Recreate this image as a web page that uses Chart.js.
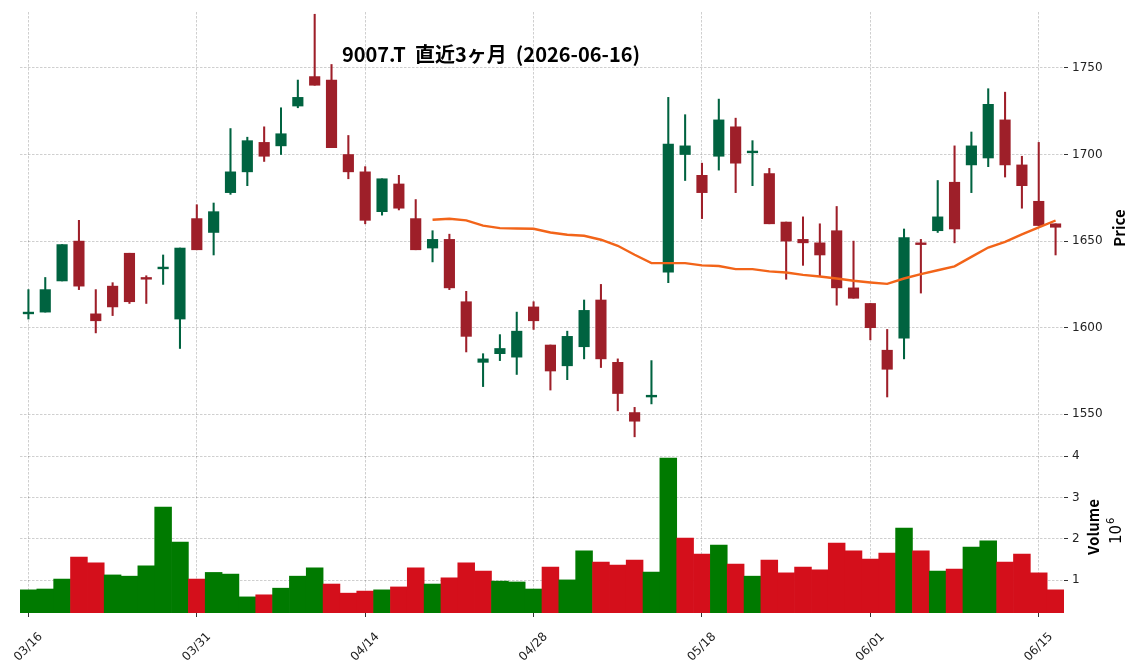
<!DOCTYPE html>
<html>
<head>
<meta charset="utf-8">
<script src="https://cdn.jsdelivr.net/npm/chart.js@4/dist/chart.umd.min.js"></script>
<style>
html,body{margin:0;padding:0;background:#fff}
#wrap{width:1137px;height:670px}
</style>
</head>
<body>
<div id="wrap"><canvas id="chart" width="1137" height="670"></canvas></div>
<script>
const dates = [
"03/16","03/17","03/18","03/19","03/23","03/24","03/25","03/26","03/27","03/30",
"03/31","04/01","04/02","04/03","04/06","04/07","04/08","04/09","04/10","04/13",
"04/14","04/15","04/16","04/17","04/20","04/21","04/22","04/23","04/24","04/27",
"04/28","04/30","05/01","05/07","05/08","05/11","05/12","05/13","05/14","05/15",
"05/18","05/19","05/20","05/21","05/22","05/25","05/26","05/27","05/28","05/29",
"06/01","06/02","06/03","06/04","06/05","06/08","06/09","06/10","06/11","06/12",
"06/15","06/16"]

const opens = [
1608,1609,1627,1650,1608,1624,1643,1629,1634,1605,
1663,1655,1678,1690,1707,1705,1728,1745,1743,1700,
1690,1667,1683,1663,1646,1651,1615,1580,1585,1583,
1612,1590,1578,1589,1616,1580,1551,1560,1632,1700,
1688,1699,1716,1701,1689,1661,1651,1649,1656,1623,
1614,1587,1594,1649,1656,1684,1694,1698,1720,1694,
1673,1660]

const highs = [
1622,1629,1648,1662,1622,1626,1643,1630,1642,1646,
1671,1672,1715,1710,1716,1727,1743,1781,1752,1711,
1693,1686,1688,1674,1656,1654,1621,1585,1596,1609,
1615,1590,1598,1616,1625,1582,1554,1581,1733,1723,
1695,1732,1721,1708,1692,1661,1664,1660,1670,1650,
1614,1599,1657,1651,1685,1705,1713,1738,1736,1699,
1707,1660]

const lows = [
1605,1609,1627,1622,1597,1607,1614,1614,1625,1588,
1645,1642,1677,1682,1696,1700,1727,1740,1704,1686,
1660,1665,1668,1645,1638,1622,1586,1566,1581,1573,
1599,1564,1570,1582,1577,1552,1537,1556,1626,1685,
1663,1691,1678,1682,1660,1628,1636,1630,1613,1617,
1593,1560,1582,1620,1655,1649,1678,1693,1687,1669,
1659,1642]

const closes = [
1609,1622,1648,1624,1604,1612,1615,1628,1635,1646,
1645,1667,1690,1708,1699,1712,1733,1740,1704,1690,
1662,1686,1669,1645,1651,1623,1595,1582,1588,1598,
1604,1575,1595,1610,1582,1562,1546,1561,1706,1705,
1678,1720,1695,1702,1660,1650,1649,1642,1623,1617,
1600,1576,1652,1648,1664,1657,1705,1729,1694,1682,
1659,1658]

// volume, millions of shares
const volumes = [
0.77,0.79,1.03,1.56,1.42,1.13,1.10,1.35,2.77,1.92,
1.03,1.19,1.15,0.60,0.65,0.81,1.10,1.30,0.91,0.69,
0.74,0.77,0.84,1.30,0.91,1.06,1.42,1.22,0.98,0.96,
0.79,1.32,1.01,1.71,1.44,1.37,1.49,1.20,3.95,2.02,
1.63,1.85,1.39,1.10,1.49,1.18,1.32,1.25,1.90,1.71,
1.51,1.66,2.26,1.71,1.22,1.27,1.80,1.95,1.44,1.63,
1.18,0.77]

// moving average line as drawn (starts at the 25th session)
const movingAvg = [
null,null,null,null,null,null,null,null,null,null,
null,null,null,null,null,null,null,null,null,null,
null,null,null,null,1662.3,1662.9,1662.0,1658.9,1657.5,1657.3,
1657.1,1655.0,1653.7,1653.1,1650.8,1647.3,1642.1,1637.3,1637.3,1637.3,
1636.0,1635.6,1633.8,1633.8,1632.5,1631.9,1630.5,1629.6,1628.4,1627.1,
1626.1,1625.3,1628.4,1630.9,1633.2,1635.4,1640.9,1646.3,1649.6,1653.9,
1657.9,1661.9]

const priceTicks = [1550,1600,1650,1700,1750]
const volumeTicks = [1,2,3,4]
const dateTicks = ["03/16","03/31","04/14","04/28","05/18","06/01","06/15"]

const upCandle = "#006340"
const downCandle = "#9e1f29"
const upVol = "#007a00"
const downVol = "#d40f1b"
const gridColor = "rgba(0,0,0,0.24)"
const tickFont = {family:"DejaVu Sans", size:12}
const cjk = '"Noto Sans CJK JP"'

function candleColor(c){
let i = c.dataIndex
return closes[i] >= opens[i] ? upCandle : downCandle
}

function volColor(c){
let i = c.dataIndex
if(i === 0) return upVol
return closes[i] >= closes[i-1] ? upVol : downVol
}

const textPlugin = {
id:"texts",
afterDraw(chart){
const ctx = chart.ctx
const xs = chart.scales.x
ctx.save()
ctx.fillStyle = "#000"

// title
ctx.font = "bold 20px " + cjk
ctx.textAlign = "center"
ctx.textBaseline = "alphabetic"
ctx.fillText("9007.T  直近3ヶ月  (2026-06-16)", 491, 62)

// date labels, rotated 45 deg, centred under the tick
ctx.font = "12px DejaVu Sans"
ctx.fillStyle = "#222"
ctx.textBaseline = "middle"
dateTicks.forEach(d => {
let x = xs.getPixelForValue(dates.indexOf(d))
ctx.save()
ctx.translate(x, 647)
ctx.rotate(-Math.PI/4)
ctx.fillText(d, 0, 0)
ctx.restore()
})

// axis titles
ctx.fillStyle = "#000"
ctx.font = "bold 15px " + cjk
ctx.save()
ctx.translate(1119, 228)
ctx.rotate(-Math.PI/2)
ctx.fillText("Price", 0, 0)
ctx.restore()

ctx.save()
ctx.translate(1093, 527)
ctx.rotate(-Math.PI/2)
ctx.fillText("Volume", 0, 0)
ctx.restore()

ctx.save()
ctx.translate(1117, 527)
ctx.rotate(-Math.PI/2)
ctx.font = "15px DejaVu Sans"
ctx.textAlign = "right"
ctx.fillText("10", 2, 0)
ctx.font = "10px DejaVu Sans"
ctx.textAlign = "left"
ctx.fillText("6", 3, -6)
ctx.restore()

ctx.restore()
}
}

const ctx = document.getElementById("chart").getContext("2d")

new Chart(ctx,{
data:{
labels:dates,
datasets:[
{
type:"line",
data:movingAvg,
yAxisID:"y",
borderColor:"#f26419",
borderWidth:2.4,
pointRadius:0,
tension:0,
order:0
},
{
type:"bar",
data:opens.map((o,i) => [o, closes[i]]),
yAxisID:"y",
backgroundColor:candleColor,
barThickness:10.5,
minBarLength:1.6,
grouped:false,
order:1
},
{
type:"bar",
data:lows.map((l,i) => [l, highs[i]]),
yAxisID:"y",
backgroundColor:candleColor,
barThickness:1.4,
grouped:false,
order:2
},
{
type:"bar",
data:volumes,
yAxisID:"yv",
backgroundColor:volColor,
barPercentage:1,
categoryPercentage:1,
grouped:false,
order:3
}
]
},
options:{
responsive:false,
animation:false,
layout:{padding:{left:20, top:12, right:0, bottom:0}},
plugins:{legend:{display:false}, tooltip:{enabled:false}},
scales:{
x:{
type:"category",
offset:true,
grid:{offset:false, color:gridColor, lineWidth:0.8, drawTicks:true, tickLength:4, tickColor:"#333", tickWidth:1},
border:{display:false, dash:[2.5,1.5]},
ticks:{display:false},
afterBuildTicks:s => { s.ticks = dateTicks.map(d => ({value:dates.indexOf(d)})) },
afterFit:s => { s.height = 57 }
},
y:{
type:"linear",
position:"right",
stack:"panels",
stackWeight:430,
min:1534.0,
max:1782.3,
grid:{color:gridColor, lineWidth:0.8, drawTicks:true, tickLength:4, tickColor:"#333", tickWidth:1},
border:{display:false, dash:[2.5,1.5]},
ticks:{color:"#222", font:tickFont, padding:4, callback:v => String(v)},
afterBuildTicks:s => { s.ticks = priceTicks.map(v => ({value:v})) },
afterFit:s => { s.width = 73 }
},
yv:{
type:"linear",
position:"right",
stack:"panels",
stackWeight:171,
min:0.211,
max:4.338,
grid:{color:gridColor, lineWidth:0.8, drawTicks:true, tickLength:4, tickColor:"#333", tickWidth:1},
border:{display:false, dash:[2.5,1.5]},
ticks:{color:"#222", font:tickFont, padding:4, callback:v => String(v)},
afterBuildTicks:s => { s.ticks = volumeTicks.map(v => ({value:v})) },
afterFit:s => { s.width = 73 }
}
}
},
plugins:[textPlugin]
})
</script>
</body>
</html>
